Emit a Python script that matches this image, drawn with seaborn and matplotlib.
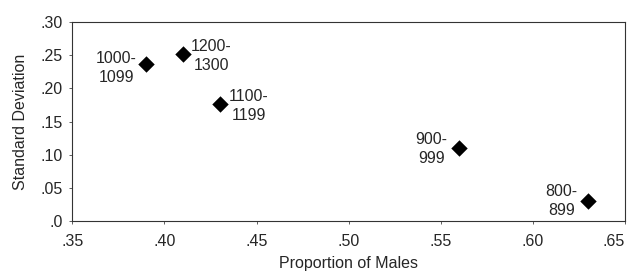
import matplotlib
matplotlib.use("Agg")
import pandas as pd
import seaborn as sns
import matplotlib.pyplot as plt

# === Data ===
groups = ["1000-\n1099", "1200-\n1300", "1100-\n1199", "900-\n999", "800-\n899"]
prop_males = [0.390, 0.410, 0.430, 0.560, 0.630]
std_dev = [0.237, 0.251, 0.177, 0.110, 0.030]
label_side = ["left", "right", "right", "left", "left"]

x_ticks = [0.35, 0.40, 0.45, 0.50, 0.55, 0.60, 0.65]
x_tick_labels = [".35", ".40", ".45", ".50", ".55", ".60", ".65"]
y_ticks = [0.0, 0.05, 0.10, 0.15, 0.20, 0.25, 0.30]
y_tick_labels = [".0", ".05", ".10", ".15", ".20", ".25", ".30"]

df = pd.DataFrame({"group": groups, "prop": prop_males, "sd": std_dev, "side": label_side})

sns.set_style("ticks")
plt.rcParams["font.family"] = ["Liberation Sans", "DejaVu Sans"]

FS = 11.5

fig, ax = plt.subplots(figsize=(6.34, 2.74), dpi=100)
fig.subplots_adjust(left=0.114, right=0.986, top=0.92, bottom=0.193)

sns.scatterplot(data=df, x="prop", y="sd", marker="D", s=70, color="black",
                edgecolor="black", linewidth=0, ax=ax, legend=False)

# small per-label nudges (points) to match the original label placement
nudge = {"1000-\n1099": (-6.5, -3), "1200-\n1300": (6, -1), "1100-\n1199": (6.5, -1.5),
         "900-\n999": (-8.5, -0.5), "800-\n899": (-7.5, 0)}

for _, row in df.iterrows():
    dx, dy = nudge[row["group"]]
    ax.annotate(row["group"], (row["prop"], row["sd"]), xytext=(dx, dy),
                textcoords="offset points",
                ha="right" if row["side"] == "left" else "left", va="center",
                multialignment="center", fontsize=FS, linespacing=1.35)

ax.set_xlim(0.35, 0.65)
ax.set_ylim(0.0, 0.30)
ax.set_xticks(x_ticks)
ax.set_xticklabels(x_tick_labels)
ax.set_yticks(y_ticks)
ax.set_yticklabels(y_tick_labels)
ax.tick_params(labelsize=FS, length=2, width=0.6, color="#444444")
ax.tick_params(axis="x", pad=7)
ax.tick_params(axis="y", pad=5)
ax.get_xticklabels()[-1].set_ha("right")
ax.set_xlabel("Proportion of Males", fontsize=FS, labelpad=5.5)
ax.set_ylabel("Standard Deviation", fontsize=FS, labelpad=9)
for sp in ax.spines.values():
    sp.set_visible(True)
    sp.set_linewidth(0.8)
    sp.set_color("#333333")

fig.savefig("out.png", dpi=100)
